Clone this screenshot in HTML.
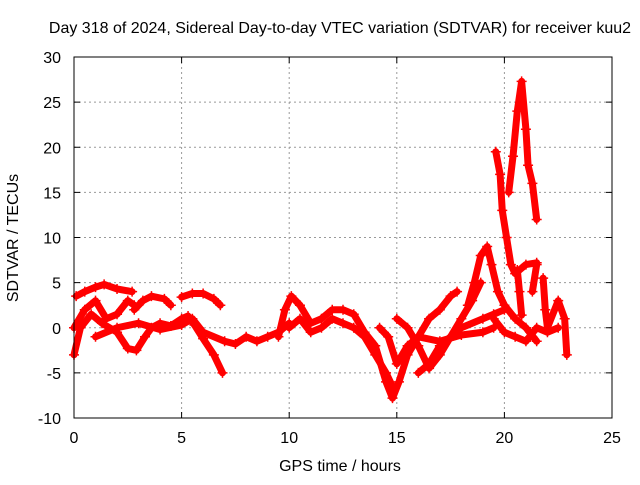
<!DOCTYPE html>
<html><head><meta charset="utf-8"><style>
body{margin:0;background:#fff}
svg text{font-family:"Liberation Sans",sans-serif;font-size:16px;fill:#000}
</style></head><body>
<svg id="chart" width="640" height="480">
<rect width="640" height="480" fill="#fff"/>
<text x="340" y="33" text-anchor="middle">Day 318 of 2024, Sidereal Day-to-day VTEC variation (SDTVAR) for receiver kuu2</text>
<text x="340" y="471" text-anchor="middle">GPS time / hours</text>
<text transform="translate(18,238) rotate(-90)" text-anchor="middle">SDTVAR / TECUs</text>
<g id="grid"></g><g id="ticks"></g><g id="marks"></g>
<rect x="74" y="57" width="538" height="361" fill="none" stroke="#000" stroke-width="1"/>
</svg>
<script>
const xTicks=[0,5,10,15,20,25];
const yTicks=[-10,-5,0,5,10,15,20,25,30];
const trackA=[[0.1,3.5],[0.5,4],[1,4.5],[1.4,4.8],[2,4.3],[2.7,4]];
const trackB=[[2.8,2],[3.2,3],[3.6,3.5],[4.2,3.2],[4.5,2.5]];
const trackC=[[5,3.4],[5.5,3.8],[6,3.8],[6.5,3.2],[6.8,2.5]];
const trackD=[[0,-3],[0.3,0],[0.8,1.5],[1.3,0.5],[2,-0.5],[2.5,-2.3],[2.9,-2.5],[3.3,-1],[3.6,0],[4,0.5],[4.5,0.2],[5,1],[5.3,1.3],[5.6,0.3],[6,-1.2],[6.5,-3],[6.9,-5]];
const trackE=[[0,0],[0.5,2],[1,3],[1.5,1],[2,1.5],[2.5,3],[2.8,2.5]];
const trackF=[[1,-1],[2,0],[3,0.5],[4,-0.2],[5,0.3],[5.5,1],[6,-0.5],[7,-1.5],[7.5,-1.8],[8,-1],[8.5,-1.5],[9,-1],[9.5,-0.5],[10,0.5]];
const trackG=[[9.5,-1],[9.8,2],[10.1,3.5],[10.5,2.5],[11,0.5],[11.5,1],[12,2],[12.5,2],[13,1.5],[13.5,-0.5],[14,-2],[14.5,-6],[14.8,-7.8],[15.1,-6],[15.5,-3],[16,-1],[16.5,1],[17,2],[17.5,3.5],[17.8,4]];
const trackH=[[10,0],[10.5,1],[11,-0.5],[11.5,0],[12,1],[12.5,0.5],[13,0],[13.5,-1],[14,-3],[14.5,-5],[14.8,-6.5]];
const trackI=[[14.2,0],[14.6,-1],[15,-4],[15.5,-2],[16,-1],[17,-1.5],[18,-0.8],[19,-0.5],[19.5,0]];
const trackJ=[[15,1],[15.5,0],[16,-2],[16.5,-4.5],[17,-3],[17.5,-1],[18,1],[18.5,3],[18.9,5]];
const trackK=[[16,-5],[16.5,-4],[17,-2],[18,0],[19,1],[19.5,1.5],[20,2]];
const trackL=[[18.3,2.5],[18.6,5],[18.9,8],[19.2,9],[19.4,7],[19.7,4],[20,2.5],[20.5,1],[21,0],[21.5,-1.5]];
const trackM=[[19.6,19.5],[19.8,17],[19.9,13],[20.1,10],[20.3,7],[20.5,6],[21,7],[21.5,7.2]];
const trackN=[[20.2,15],[20.4,19],[20.6,24],[20.8,27.3],[21,22],[21.1,18],[21.3,16],[21.5,12]];
const trackO=[[20.6,6.4],[20.7,4],[20.8,1.4]];
const trackP=[[21.3,4],[21.5,7]];
const trackQ=[[21.8,5.5],[21.9,2],[22,0],[22.5,3],[22.8,1],[22.9,-3]];
const trackR=[[19.5,1],[20,-0.5],[20.5,-1],[21,-1.5],[21.5,0],[22,-0.5],[22.5,0]];
const tracks=[trackA,trackB,trackC,trackD,trackE,trackF,trackG,trackH,trackI,trackJ,trackK,trackL,trackM,trackN,trackO,trackP,trackQ,trackR];
const NS='http://www.w3.org/2000/svg';
const X=h=>74+h*538/25, Y=v=>57+(30-v)*361/40;
const grid=document.getElementById('grid'),ticks=document.getElementById('ticks'),marks=document.getElementById('marks');
function mk(t,a,p){const e=document.createElementNS(NS,t);for(const k in a)e.setAttribute(k,a[k]);p.appendChild(e);return e;}
xTicks.forEach(t=>{const x=X(t);
 if(t>0&&t<25){const g=mk('line',{x1:x,x2:x,y1:57,y2:418,stroke:'#999','stroke-dasharray':'2,3'},grid);
 
 }
 const l=mk('text',{x:x,y:443,'text-anchor':'middle'},ticks);l.textContent=t;
 
 
 mk('line',{x1:x,x2:x,y1:418,y2:412,stroke:'#000'},ticks);mk('line',{x1:x,x2:x,y1:57,y2:63,stroke:'#000'},ticks);});
yTicks.forEach(t=>{const y=Y(t);
 if(t>-10&&t<30){const g=mk('line',{x1:74,x2:612,y1:y,y2:y,stroke:'#999','stroke-dasharray':'2,3'},grid);
 
 }
 const l=mk('text',{x:61,y:y+6,'text-anchor':'end'},ticks);l.textContent=t;
 
 
 mk('line',{x1:74,x2:80,y1:y,y2:y,stroke:'#000'},ticks);mk('line',{x1:612,x2:606,y1:y,y2:y,stroke:'#000'},ticks);});
tracks.forEach((tr,i)=>{
 const pl=mk('polyline',{points:tr.map(p=>X(p[0])+','+Y(p[1])).join(' '),fill:'none',stroke:'#f00','stroke-width':7,'stroke-linejoin':'round','stroke-linecap':'round'},marks);
 
 
 tr.forEach(p=>{const x=X(p[0]),y=Y(p[1]);
  const m=mk('path',{d:`M${x-5},${y}H${x+5}M${x},${y-5}V${y+5}`,stroke:'#f00','stroke-width':1.5},marks);
  
  });
});
</script>
</body></html>
